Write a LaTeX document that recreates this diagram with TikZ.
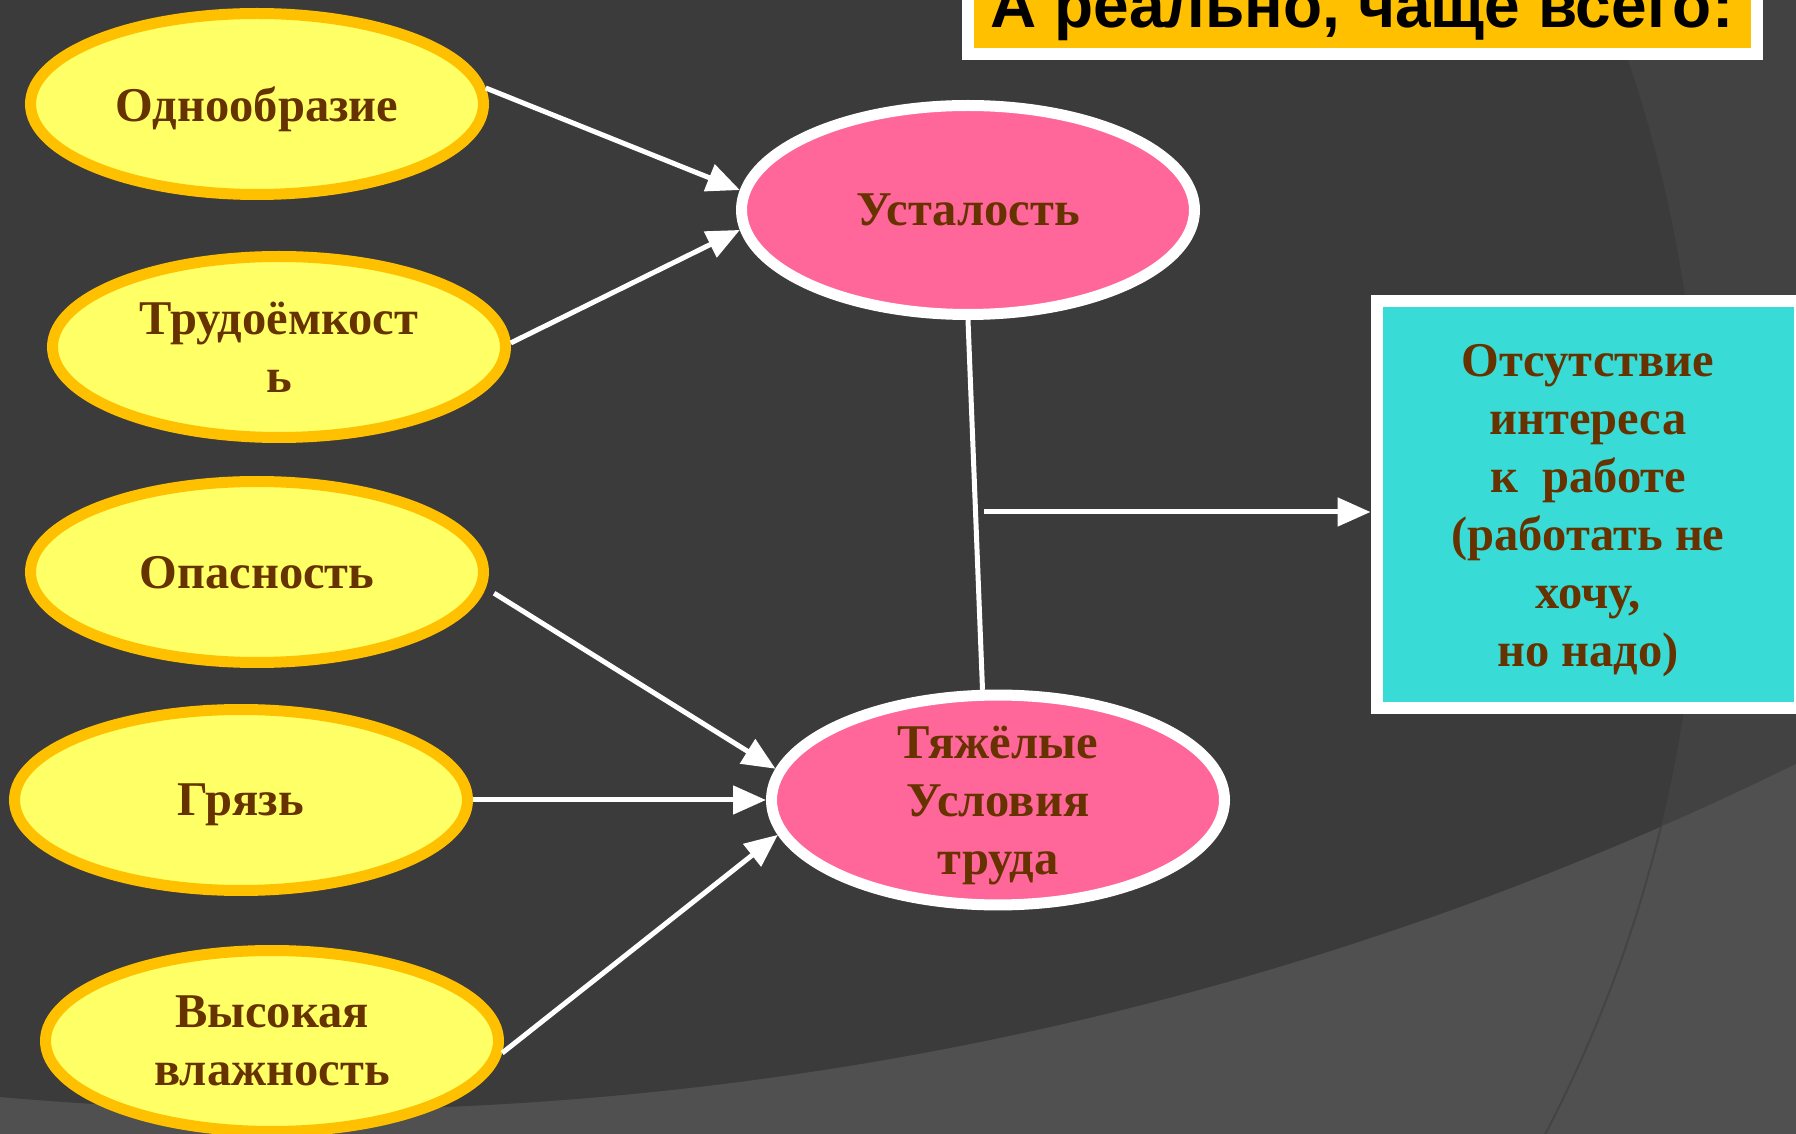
\documentclass[tikz,border=0pt]{standalone}
\usepackage{fontspec}
\setmainfont{Liberation Serif}
\newfontfamily\headfont{Liberation Sans}
\usepackage{xcolor}
\usetikzlibrary{arrows.meta,calc,shapes}
\definecolor{bgdark}{RGB}{59,59,59}
\definecolor{bgmid}{RGB}{66,66,66}
\definecolor{bglight}{RGB}{80,80,80}
\definecolor{c1}{RGB}{255,255,102}
\definecolor{c2}{RGB}{255,192,0}
\definecolor{c3}{RGB}{255,102,153}
\definecolor{c4}{RGB}{56,219,214}
\definecolor{brown}{RGB}{102,51,0}
\newcommand{\causefont}{\bfseries\fontsize{13.8}{16.5}\selectfont}
\tikzset{
  cause/.style={ellipse, draw=c2, fill=c1, line width=1.1mm, minimum width=45.3mm, minimum height=18.1mm, inner sep=0pt, text depth=0pt, align=center, text=brown, font=\causefont},
  effect/.style={ellipse, draw=white, fill=c3, line width=1.1mm, minimum width=45.3mm, minimum height=20.9mm, inner sep=0pt, text depth=0pt, align=center, text=brown, font=\causefont},
  result/.style={draw=white, fill=c4, line width=1.2mm, minimum width=42.3mm, minimum height=40.7mm, inner sep=0pt, text depth=0pt, align=center, text=brown, font=\causefont},
  heading/.style={draw=white, fill=c2, line width=1.2mm, minimum width=78.9mm, inner sep=0pt, text height=8mm, text depth=2.6mm, font=\headfont\bfseries\fontsize{18.2}{22}\selectfont},
  edge/.style={-{Triangle[length=3.3mm, width=2.8mm]}, line width=0.5mm, white},
  link/.style={line width=0.5mm, white}
}

\begin{document}
\begin{tikzpicture}[x=0.1mm, y=-0.1mm]
    \useasboundingbox (0,0) rectangle (1796,1134);
    % background
    \begin{scope}
        \clip (0,0) rectangle (1796,1134);
        \fill[bglight] (0,0) rectangle (1796,1134);
        \draw[bglight!85!black, line width=0.2mm] (326,500) circle[radius=137.4mm];
        \begin{scope}
            \clip (300,-2288) circle[radius=339.8mm];
            \fill[bgmid] (0,0) rectangle (1796,1134);
            \fill[bgdark] (326,500) circle[radius=137.4mm];
        \end{scope}
    \end{scope}

    \node [heading, anchor=base] (title) at (1362,28) {А реально, чаще всего:};

    \node [cause] (odn) at (257,104) {Однообразие};
    \node [cause] (trud) at (279,347) {Трудоёмкост\\ь};
    \node [cause] (opas) at (257,572) {Опасность};
    \node [cause] (gryaz) at (241,800) {Грязь};
    \node [cause] (vlazh) at (272,1041) {Высокая\\влажность};

    \node [effect] (ust) at (968,210) {Усталость};
    \node [effect] (tyazh) at (998,800) {Тяжёлые\\Условия\\труда};

    \node [result] (interes) at (1588,505) {Отсутствие\\интереса\\к\ \ работе\\(работать не\\хочу,\\но надо)};

    \draw [edge] (odn.4) -- (ust.175);
    \draw [edge] (trud.1) -- (ust.185);
    \draw [edge, shorten <=2.8pt] (opas.-4) -- (tyazh.172);
    \draw [edge] (gryaz.east) -- (tyazh.180);
    \draw [edge] (vlazh.-3) -- (tyazh.189);

    \draw [link] (ust.south) -- (tyazh.98);
    \coordinate (branch) at (984,512);
    \draw [edge] (branch) -- (branch -| interes.west);
\end{tikzpicture}
\end{document}
